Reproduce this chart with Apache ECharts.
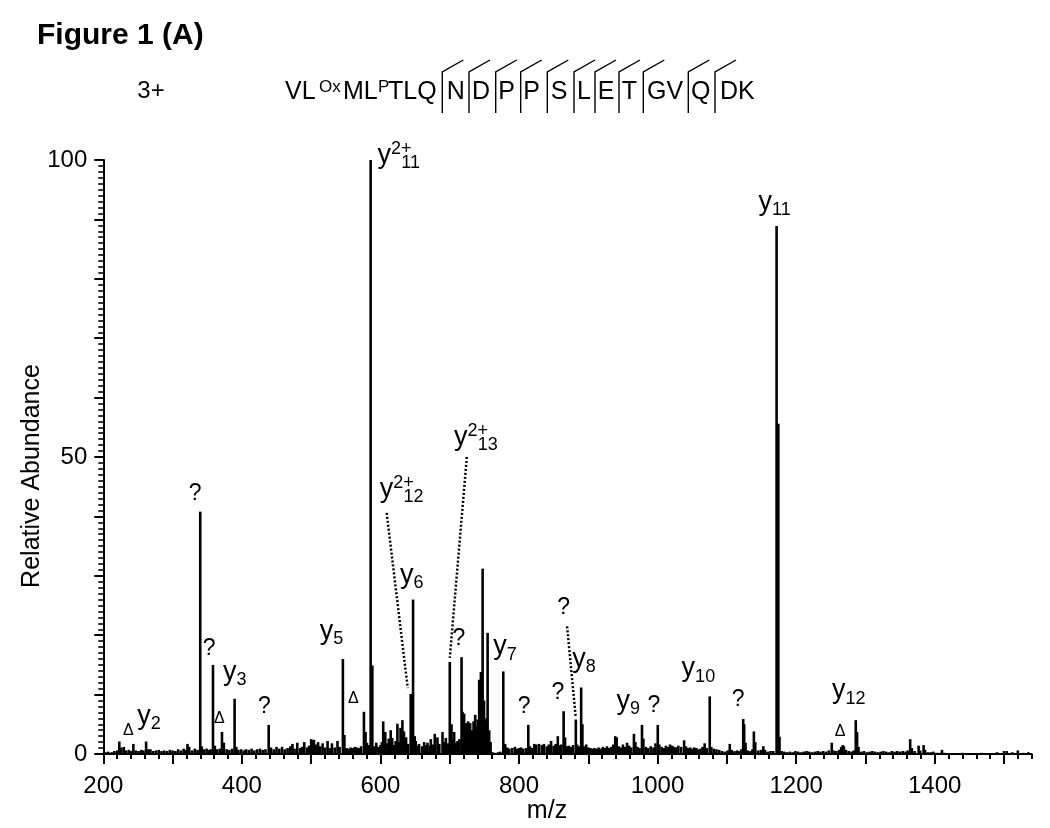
<!DOCTYPE html>
<html><head><meta charset="utf-8">
<script src="https://cdn.jsdelivr.net/npm/echarts@6/dist/echarts.min.js"></script>
<style>html,body{margin:0;padding:0;background:#fff}#c{width:1050px;height:828px}</style>
</head><body><div id="c"></div>
<script>
// ---------------- DATA ----------------
const peakMz = [203,207,212,216,220,223.1,226,229.6,233,237,240,243.4,247,251,255,258,261.8,265,268,272,276,280,284,288,292,296,300,304,308,312,316,319,321.5,324,328,332,336,339.9,342,345,349,352,355,358.3,361,364,368,371.3,374,378,382,386,389.5,392,395,399,403,406,410,414,418,422,426,430,434,438.7,442,446,450,454,458,462,466,470,473,476,480,484,487,490,494,497,500,502,504,507,510,513,516.5,520,523.7,527,530,534,538,541,545.8,548,551,554,557,560,563,566,569,572,576.2,578.5,580.5,583,585.9,588.3,591,594,597,600,602,604,607,610,612,614.8,617,620,622,624.5,627,629,631.7,634,637,640,643.7,645.5,647.1,649.5,650.9,654,655.7,660,663,666,667.9,671,672.7,676,678.4,682.3,685,689.6,692,694.4,698,700.1,702.6,704.5,706.4,709,711.3,714,717.1,718.5,720.8,723.3,725,726.6,728,729.5,732,734.4,736.8,739,740.5,742.5,745,747.5,749.5,751.5,753,754.7,757,759,762,766,770,773,777.3,780,783,786,790,794,797,800,803,806,810,813.4,816,819,822,825,829,833,836,840,843,846.3,850,853,856,859,861,864.4,866.5,869,872,875,878,882,884,887,889.7,891.5,894,897,900,903,906,909,912,915,918,921,924,927,930,933,936,938.9,941,944,947,950,953,956,959,962,965.9,968,971,974,977.5,979.5,983,986,990,994,997,1000.3,1002.5,1006,1009,1012,1015,1018,1021,1024,1027,1030,1034,1038.3,1041,1044,1047,1050,1053,1056,1059,1062,1065,1068,1071,1075.3,1077.5,1081,1085,1089,1093,1097,1101,1104.2,1107,1111,1115,1118,1121,1123.6,1125,1127,1130,1134,1137,1139,1141,1145,1149,1152.6,1155,1159,1163,1167,1171.8,1174.3,1176,1179,1183,1187,1191,1195,1199,1203,1207,1211,1215,1219,1223,1227,1231,1235,1239,1243,1247,1251.4,1254,1258,1262,1265,1267.3,1269,1272,1276,1280,1283,1286.1,1288,1290,1294,1298,1302,1306,1310,1314,1318,1322,1326,1330,1334,1338,1342,1346,1350,1354,1358,1361,1364.6,1367,1371,1376.8,1379,1384,1386,1390,1394,1398,1402,1406,1410.5,1414,1420,1430,1440,1455,1468,1480,1490,1500,1504,1512,1520,1528,1535];
const peakRel = [0.3,0.4,0.3,0.5,0.6,2.1,1.1,1.2,0.6,0.7,0.5,1.7,0.6,0.5,0.7,0.6,2.1,0.8,0.8,0.5,0.6,0.7,0.5,0.6,0.5,0.7,0.6,0.5,0.8,0.6,0.9,0.7,1.7,1.2,0.6,0.9,0.7,40.8,1.3,0.8,0.9,0.7,0.8,15.0,1.4,0.8,0.9,3.7,1.9,0.8,0.7,0.9,9.3,1.2,0.7,0.8,0.6,0.8,0.7,0.9,0.6,0.8,0.9,0.7,0.8,4.9,1.1,0.8,1.2,0.9,1.2,0.8,1.0,1.3,1.7,0.9,1.9,1.0,1.2,2.0,1.1,1.4,2.5,2.3,2.4,1.6,2.0,1.3,1.8,1.1,2.2,1.0,1.8,1.1,2.2,1.2,16.0,3.2,1.0,0.9,1.1,1.0,1.2,1.1,1.0,1.3,7.1,3.7,1.9,1.5,100,14.9,1.3,1.9,1.2,1.5,2.0,5.5,3.7,1.8,2.6,4.0,2.7,1.5,2.2,5.1,2.0,4.4,5.7,3.8,2.8,1.7,10.1,7.0,26.0,3.0,2.2,1.4,1.7,1.3,2.0,1.5,1.9,1.4,2.5,1.6,3.4,2.8,1.7,3.7,2.0,2.7,1.8,15.5,5.0,2.4,3.7,1.9,2.2,2.5,16.3,7.1,6.8,5.2,4.3,5.5,4.0,5.2,4.0,5.5,6.6,4.6,5.8,12.5,13.8,31.2,9.0,5.5,6.0,20.4,4.0,2.0,0.3,0.2,0.3,0.4,13.9,1.7,1.1,0.9,1.0,1.2,0.9,1.0,1.1,0.9,1.0,4.9,1.3,1.0,1.7,1.6,1.7,1.5,1.7,1.3,1.6,2.2,1.4,1.7,3.0,1.5,1.6,7.2,2.8,1.3,1.4,1.2,1.5,5.8,1.6,1.3,11.2,5.0,1.3,1.6,1.1,1.0,0.9,1.0,0.9,1.1,0.9,1.2,1.0,1.3,1.0,1.2,1.6,3.0,2.8,1.3,1.1,1.6,1.2,1.9,1.4,1.1,3.4,2.0,1.2,1.0,4.9,2.6,1.2,1.0,1.3,1.1,1.8,4.9,1.6,1.2,1.0,1.4,1.2,1.6,1.4,1.2,1.1,1.4,1.2,2.3,1.3,1.0,1.1,0.9,1.1,1.0,0.8,0.9,1.2,1.8,1.0,9.7,1.2,0.9,0.8,0.7,0.5,0.4,0.6,1.7,0.7,0.5,0.6,0.5,0.8,5.9,5.0,1.9,0.6,0.5,0.8,3.8,2.0,0.6,0.7,1.3,0.7,0.4,0.5,0.5,88.9,55.6,2.9,0.5,0.4,0.3,0.4,0.3,0.5,0.4,0.3,0.4,0.5,0.4,0.3,0.4,0.5,0.4,0.5,0.4,0.6,1.9,0.6,0.5,0.7,1.2,1.5,1.3,0.7,0.5,0.4,0.6,5.7,3.7,1.2,0.4,0.5,0.3,0.4,0.5,0.4,0.3,0.4,0.5,0.4,0.3,0.5,0.4,0.5,0.4,0.5,0.4,0.6,2.5,1.0,0.5,1.4,0.6,1.5,0.7,0.3,0.3,0.4,0.2,0.2,0.7,0.2,0.1,0.1,0.2,0.1,0.2,0.1,0.3,0.5,0.5,0.3,0.6,0.2,0.3];

// Ion annotations: main glyph, superscript, subscript, label centre (m/z, relative abundance)
const annMain = ['y','y','y','y','?','?','y','\u0394','?','y','\u0394','y','\u0394','y','?','y','?','?','?','y','y','?','y','?','y','\u0394'];
const annSup  = ['2+','','2+','2+','','','','','','','','','','','','','','','','','','','','','',''];
const annSub  = ['11','11','13','12','','','3','','','2','','5','','6','','7','','','','8','9','','10','','12',''];
const annMz   = [626.4,1168.9,737.8,630.7,332.7,352.9,389.8,367.4,432.5,266.1,236.2,529.4,560.8,645.2,713.2,779.7,807.6,856,864.6,894,957.7,994.8,1058.9,1116.4,1276,1263.4];
const annRel  = [100.7,92.1,53.2,44.4,43.8,17.8,13.0,5.9,7.9,5.6,3.9,19.9,9.3,29.3,19.4,17.3,7.9,10.3,24.7,15.2,8.1,8.1,13.6,9.1,9.9,3.7];

// Dotted connectors (m/z, rel) start -> end
const connectors = [
  [[609.0,40.6],[639.4,11.1]],
  [[724.7,50.0],[700.1,16.2]],
  [[869.4,21.5],[881.7,6.4]]
];

const xMajorTicks = [200,300,400,500,600,700,800,900,1000,1100,1200,1300,1400,1500];
const xTickLabels = [200,400,600,800,1000,1200,1400];
const yMajorTicks = [0,10,20,30,40,50,60,70,80,90,100];
const yTickLabels = [0,50,100];

const titleText = 'Figure 1 (A)';
const chargeText = '3+';
const xAxisName = 'm/z';
const yAxisName = 'Relative Abundance';
const seqPrefix = [['VL',''],['Ox','sup'],['ML',''],['P','sup'],['TLQ','']];
const seqCells = ['N','D','P','P','S','L','E','T','GV','Q','DK'];

// ---------------- LAYOUT ----------------
const FONT = '"Liberation Sans", Arial, Helvetica, sans-serif';
const mctx = document.createElement('canvas').getContext('2d');
function tw(t, fs, bold){ mctx.font = (bold?'bold ':'') + fs + 'px ' + FONT; return mctx.measureText(t).width; }

const prefixX = [285, 319, 343, 378, 388];
const cellBarX = [442.3,469,495.7,520.7,547.3,574,595,619,643.3,688.3,715];
const cellCx = [455.7,481,506.7,531.7,559,584,606,629.3,665,700.7,737.3];
const seqFs = 25, seqBase = 100;

const graphics = [];
graphics.push({type:'text', left:37, top:21, style:{text:titleText, font:'bold 30px '+FONT, fill:'#000'}});
graphics.push({type:'text', x:151, y:91, style:{text:chargeText, font:'24px '+FONT, fill:'#000', align:'center', verticalAlign:'middle'}});
seqPrefix.forEach((p,i)=>{
  const sup = p[1]==='sup';
  const fs = sup ? 17 : seqFs;
  const base = sup ? 93 : seqBase;
  graphics.push({type:'text', x:prefixX[i], y:base - 0.31*fs, style:{text:p[0], font:fs+'px '+FONT, fill:'#000', align:'left', verticalAlign:'middle'}});
});
seqCells.forEach((c,i)=>{
  graphics.push({type:'text', x:cellCx[i], y:seqBase - 0.31*seqFs, style:{text:c, font:seqFs+'px '+FONT, fill:'#000', align:'center', verticalAlign:'middle'}});
  const bx = cellBarX[i];
  graphics.push({type:'polyline', shape:{points:[[bx,113],[bx,72],[bx+21,60]]}, style:{stroke:'#000', lineWidth:1.4, fill:null}});
});
graphics.push({type:'text', x:32, y:476, rotation:Math.PI/2, style:{text:yAxisName, font:'25px '+FONT, fill:'#000', align:'center', verticalAlign:'middle'}});
graphics.push({type:'text', x:547, y:811, style:{text:xAxisName, font:'25px '+FONT, fill:'#000', align:'center', verticalAlign:'middle'}});

const chart = echarts.init(document.getElementById('c'), null, {renderer:'canvas'});
const axisTxt = {color:'#000', fontSize:24, fontFamily:FONT, formatter:function(v){return String(v);}};

chart.setOption({
  animation:false,
  backgroundColor:'#fff',
  grid:{left:103.3, right:18.3, top:160, bottom:74, containLabel:false},
  xAxis:[
    {type:'value', min:200, max:1540, interval:20, position:'bottom',
     axisLine:{show:true, onZero:false, lineStyle:{color:'#000', width:2}},
     axisTick:{show:true, length:5, lineStyle:{color:'#000', width:2}},
     axisLabel:{show:false}, splitLine:{show:false}},
    {type:'value', min:200, max:1540, position:'bottom', offset:0,
     axisLine:{show:false, onZero:false},
     axisTick:{show:true, length:10, customValues:xMajorTicks, lineStyle:{color:'#000', width:2}},
     axisLabel:Object.assign({show:true, margin:20, customValues:xTickLabels}, axisTxt), splitLine:{show:false}}
  ],
  yAxis:[
    {type:'value', min:0, max:100, interval:1, position:'left',
     axisLine:{show:true, onZero:false, lineStyle:{color:'#000', width:2}},
     axisTick:{show:true, length:5, lineStyle:{color:'#000', width:1.6}},
     axisLabel:{show:false}, splitLine:{show:false}},
    {type:'value', min:0, max:100, position:'left', offset:0,
     axisLine:{show:false, onZero:false},
     axisTick:{show:true, length:9, customValues:yMajorTicks, lineStyle:{color:'#000', width:2}},
     axisLabel:Object.assign({show:true, margin:16, customValues:yTickLabels}, axisTxt), splitLine:{show:false}}
  ],
  graphic: graphics,
  series:[
    {type:'bar', xAxisIndex:0, yAxisIndex:0, barWidth:2.6, barGap:'-100%',
     itemStyle:{color:'#000'}, silent:true,
     data: peakMz.map((m,i)=>[m, peakRel[i]])},
    {type:'lines', coordinateSystem:'cartesian2d', xAxisIndex:0, yAxisIndex:0, silent:true,
     lineStyle:{color:'#000', width:2.5, type:[2,2], opacity:1},
     data: connectors.map(c=>({coords:c}))},
    {type:'custom', xAxisIndex:0, yAxisIndex:0, silent:true, clip:false,
     data: annMz.map((m,i)=>[m, annRel[i]]),
     renderItem:function(params, api){
       const i = params.dataIndex;
       const p = api.coord([annMz[i], annRel[i]]);
       const main = annMain[i], sup = annSup[i], sub = annSub[i];
       const children = [];
       if (main !== 'y') {
         const fs = main === '?' ? 23 : 16;
         children.push({type:'text', style:{text:main, x:p[0], y:p[1], font:fs+'px '+FONT, fill:'#000', align:'center', verticalAlign:'middle'}});
       } else {
         const fsM = 27, fsS = 18;
         const wM = tw(main, fsM), wSup = sup ? tw(sup, fsS) : 0, wSub = sub ? tw(sub, fsS) : 0;
         const subShift = sup ? wSup*0.5 : 0;
         const W = Math.max(wM + wSup, wM + subShift + wSub);
         const x0 = p[0] - W/2;
         const B = p[1] + (sup ? 7.6 : 4);
         children.push({type:'text', style:{text:main, x:x0, y:B - 0.31*fsM, font:fsM+'px '+FONT, fill:'#000', align:'left', verticalAlign:'middle'}});
         if (sup) children.push({type:'text', style:{text:sup, x:x0 + wM, y:(B - 9) - 0.31*fsS, font:fsS+'px '+FONT, fill:'#000', align:'left', verticalAlign:'middle'}});
         if (sub) children.push({type:'text', style:{text:sub, x:x0 + wM + subShift, y:(B + 5) - 0.31*fsS, font:fsS+'px '+FONT, fill:'#000', align:'left', verticalAlign:'middle'}});
       }
       return {type:'group', children:children};
     }}
  ]
});
</script></body></html>
